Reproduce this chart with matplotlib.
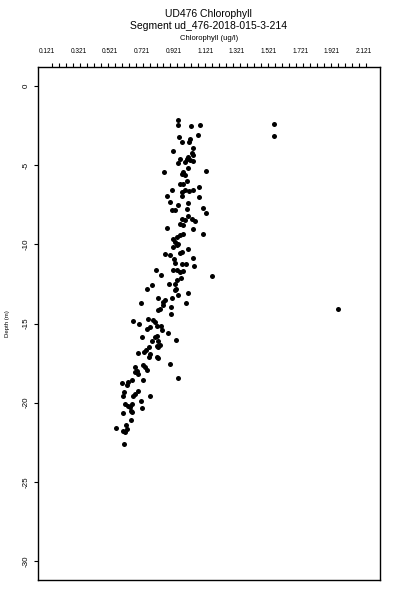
import numpy as np
import matplotlib
matplotlib.use("Agg")
import matplotlib.pyplot as plt

title1 = "UD476 Chlorophyll"
title2 = "Segment ud_476-2018-015-3-214"
xlabel = "Chlorophyll (ug/l)"
ylabel = "Depth (m)"

xtick_vals = [0.121, 0.321, 0.521, 0.721, 0.921, 1.121, 1.321, 1.521, 1.721, 1.921, 2.121]
ytick_vals = [0, -5, -10, -15, -20, -25, -30]

chl = [
    0.951, 0.948, 1.031, 1.088, 0.958, 0.973, 1.025, 1.021, 1.078, 1.046,
    0.920, 1.036, 1.046, 1.014, 1.004, 1.025, 1.042, 0.994, 0.962, 0.951,
    0.863, 1.126, 1.014, 0.983, 0.973, 0.994, 1.004, 0.983, 0.962, 0.913,
    0.973, 0.994, 1.021, 1.046, 1.082, 0.878, 0.973, 1.082, 0.899, 0.951,
    0.930, 0.910, 1.014, 1.008, 1.105, 1.126, 0.973, 0.994, 1.014, 1.036,
    1.057, 0.983, 0.962, 0.878, 1.046, 0.962, 0.941, 0.983, 0.920, 1.109,
    0.930, 0.951, 0.920, 0.941, 1.011, 0.962, 0.973, 0.867, 0.899, 1.046,
    0.926, 0.930, 0.973, 1.000, 1.052, 0.811, 0.920, 0.941, 0.962, 0.983,
    0.842, 1.162, 0.968, 0.941, 0.930, 0.895, 0.787, 0.756, 0.935, 0.930,
    1.011, 0.951, 0.825, 0.867, 0.857, 0.910, 0.998, 0.716, 0.836, 0.825,
    0.857, 0.905, 0.903, 0.664, 0.705, 0.762, 0.794, 0.804, 0.815, 0.752,
    0.773, 0.847, 0.840, 0.888, 0.815, 0.825, 0.804, 0.724, 0.783, 0.937,
    0.836, 0.825, 0.815, 0.768, 0.748, 0.737, 0.699, 0.773, 0.766, 0.815,
    0.821, 0.899, 0.678, 0.689, 0.678, 0.695, 0.730, 0.741, 0.752, 0.948,
    0.727, 0.594, 0.636, 0.657, 0.626, 0.695, 0.678, 0.667, 0.609, 0.604,
    0.773, 0.716, 0.615, 0.636, 0.647, 0.657, 0.724, 0.657, 0.651, 0.604,
    0.653, 0.621, 0.558, 0.604, 0.615, 0.626, 0.611,
    1.557, 1.557, 1.957,
]
depth = [
    -2.15, -2.47, -2.51, -2.49, -3.25, -3.56, -3.37, -3.53, -3.10, -3.91,
    -4.09, -4.22, -4.37, -4.47, -4.58, -4.68, -4.73, -4.79, -4.64, -4.85,
    -5.42, -5.34, -5.21, -5.42, -5.57, -5.63, -5.99, -6.16, -6.20, -6.58,
    -6.69, -6.58, -6.63, -6.54, -6.41, -6.96, -6.96, -7.01, -7.32, -7.53,
    -7.80, -7.85, -7.42, -7.78, -7.68, -7.99, -8.37, -8.48, -8.23, -8.37,
    -8.53, -8.80, -8.69, -8.94, -9.01, -9.43, -9.54, -9.37, -9.64, -9.37,
    -9.85, -9.96, -10.17, -10.06, -10.32, -10.55, -10.49, -10.59, -10.65, -10.87,
    -10.95, -11.18, -11.27, -11.22, -11.39, -11.60, -11.60, -11.60, -11.75, -11.71,
    -11.92, -12.01, -12.13, -12.28, -12.49, -12.49, -12.59, -12.80, -12.80, -12.91,
    -13.08, -13.18, -13.37, -13.54, -13.65, -13.37, -13.69, -13.72, -14.07, -14.13,
    -13.86, -13.97, -14.39, -14.87, -15.02, -14.70, -14.81, -14.92, -15.13, -15.34,
    -15.23, -15.44, -15.13, -15.59, -15.76, -16.08, -15.87, -15.87, -16.12, -16.03,
    -16.33, -16.46, -16.39, -16.46, -16.66, -16.77, -16.88, -16.92, -17.13, -17.09,
    -17.17, -17.55, -17.72, -17.97, -18.08, -18.18, -17.59, -17.77, -17.93, -18.44,
    -18.56, -18.75, -18.67, -18.56, -18.88, -19.24, -19.45, -19.56, -19.35, -19.56,
    -19.56, -19.92, -20.08, -20.19, -20.30, -20.08, -20.34, -20.61, -20.51, -20.68,
    -21.09, -21.39, -21.63, -21.77, -21.88, -21.66, -22.58,
    -2.42, -3.16, -14.07,
]

plt.rcParams['font.family'] = ['Liberation Sans', 'DejaVu Sans']

fig = plt.figure(figsize=(4, 6), dpi=100)
ax = fig.add_axes([37.7 / 400, 1 - 580 / 600, (380 - 37.7) / 400, (580 - 67) / 600])

ax.plot(chl, depth, linestyle='none', marker='o', markersize=3.6,
        color='black', markeredgewidth=0)

ax.set_xlim(0.121 - 0.057, 2.121 + 0.103)
ax.set_ylim(-31.2, 1.2)

ax.xaxis.tick_top()
ax.set_xticks(xtick_vals)
ax.set_xticklabels([f"{v:.3f}" for v in xtick_vals], fontsize=4.7)
ax.tick_params(axis='x', which='major', length=0, pad=8.5)
ax.set_xticks(np.linspace(0.153, 2.135, 46), minor=True)
ax.tick_params(axis='x', which='minor', direction='out', length=3, width=0.8, top=True, bottom=False)

ax.set_yticks(ytick_vals)
ax.set_yticklabels([str(v) for v in ytick_vals], fontsize=5.8, rotation=90, va='center')
ax.tick_params(axis='y', which='major', direction='out', length=3, width=0.8, pad=3)

for s in ax.spines.values():
    s.set_linewidth(1.0)

cx = 0.5 * (37.7 + 380) / 400
fig.text(cx, 1 - 14 / 600, title1, ha='center', va='center', fontsize=7.5)
fig.text(cx, 1 - 26 / 600, title2, ha='center', va='center', fontsize=7.5)
fig.text(cx, 1 - 38 / 600, xlabel, ha='center', va='center', fontsize=5.5)
fig.text(7 / 400, 1 - 323.5 / 600, ylabel, ha='center', va='center', fontsize=4.3, rotation=90)

fig.savefig("out.png", dpi=100)
